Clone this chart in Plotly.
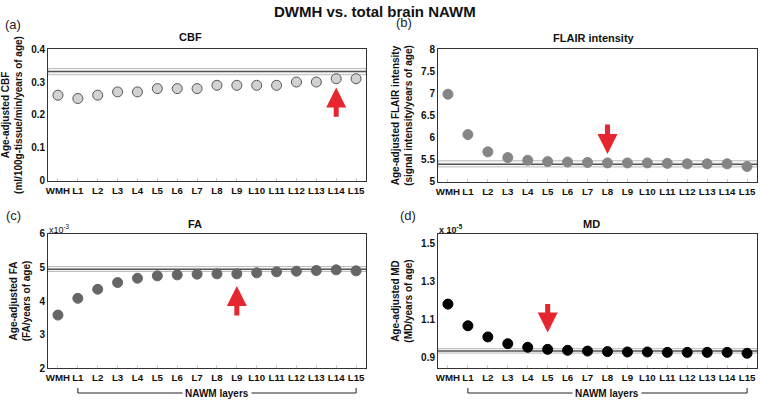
import plotly.graph_objects as go
from plotly.subplots import make_subplots

layers = ["WMH", "L1", "L2", "L3", "L4", "L5", "L6", "L7", "L8", "L9",
          "L10", "L11", "L12", "L13", "L14", "L15"]

cbf = [0.26, 0.25, 0.26, 0.27, 0.27, 0.28, 0.28, 0.28, 0.29, 0.29,
       0.29, 0.29, 0.30, 0.30, 0.31, 0.31]
flair = [6.98, 6.07, 5.68, 5.55, 5.49, 5.46, 5.45, 5.44, 5.43, 5.43,
         5.43, 5.42, 5.41, 5.41, 5.41, 5.35]
fa_e3 = [3.58, 4.08, 4.35, 4.55, 4.68, 4.75, 4.78, 4.80, 4.81, 4.81,
         4.84, 4.87, 4.89, 4.91, 4.93, 4.90]
md_e5 = [1.181, 1.066, 1.007, 0.971, 0.952, 0.941, 0.936, 0.932, 0.929, 0.927,
         0.927, 0.925, 0.925, 0.925, 0.925, 0.920]

# total brain NAWM reference: mean and band
ref_mean = [0.332, 5.40, 4.95, 0.932]
ref_lo = [0.322, 5.34, 4.88, 0.921]
ref_hi = [0.341, 5.48, 5.03, 0.945]

# red arrows: layer, tail value, head value
arrow_layer = ["L14", "L8", "L9", "L5"]
arrow_tail = [0.19, 6.33, 3.52, 1.19]
arrow_head = [0.283, 5.63, 4.45, 1.03]

panel_titles = ["CBF", "FLAIR intensity", "FA", "MD"]
panel_tags = ["(a)", "(b)", "(c)", "(d)"]
y_titles = ["Age-adjusted CBF<br>(ml/100g-tissue/min/years of age)",
            "Age-adjusted FLAIR intensity<br>(signal intensity/years of age)",
            "Age-adjusted FA<br>(FA/years of age)",
            "Age-adjusted MD<br>(MD/years of age)"]
y_ranges = [[0, 0.4], [5, 8], [2, 6], [0.842, 1.553]]
y_ticks = [[0, 0.1, 0.2, 0.3, 0.4], [5, 5.5, 6, 6.5, 7, 7.5, 8],
           [2, 3, 4, 5, 6], [0.9, 1.1, 1.3, 1.5]]
y_ticktext = [["0", "0.1", "0.2", "0.3", "0.4"],
              ["5", "5.5", "6", "6.5", "7", "7.5", "8"],
              ["2", "3", "4", "5", "6"],
              ["0.9", "1.1", "1.3", "1.5"]]

series = [cbf, flair, fa_e3, md_e5]
fills = ["#d2d2d2", "#858585", "#666666", "#000000"]
edges = ["#555555", "#858585", "#666666", "#000000"]

FONT = "Liberation Sans, Arial, sans-serif"

fig = make_subplots(rows=2, cols=2)

xi = list(range(len(layers)))
for k, vals in enumerate(series):
    r, c = k // 2 + 1, k % 2 + 1
    fig.add_trace(go.Scatter(
        x=xi, y=vals, mode="markers",
        marker=dict(size=10, color=fills[k], line=dict(color=edges[k], width=1)),
        showlegend=False), row=r, col=c)

# panel domains (paper)
xdom = [[0.0632, 0.4816], [0.5763, 0.9961], [0.0632, 0.4816], [0.5763, 0.9961]]
ydom = [[0.5509, 0.8784], [0.5484, 0.8784], [0.0868, 0.4194], [0.0868, 0.4194]]

for k in range(4):
    sx = "" if k == 0 else str(k + 1)
    fig.layout["xaxis" + sx].update(
        domain=xdom[k], range=[-0.5, len(layers) - 0.5], automargin=False,
        tickvals=xi, ticktext=layers, tickangle=0,
        tickfont=dict(family=FONT, size=9.7, color="#111", weight="bold"),
        showgrid=False, zeroline=False, showline=True, mirror=True,
        linecolor="#333", linewidth=1,
        ticks="inside", ticklen=3, tickcolor="#cccccc")
    fig.layout["yaxis" + sx].update(
        domain=ydom[k], range=y_ranges[k], automargin=False,
        tickvals=y_ticks[k], ticktext=y_ticktext[k],
        tickfont=dict(family=FONT, size=10, color="#111", weight="bold"),
        showgrid=False, zeroline=False, showline=True, mirror=True,
        linecolor="#333", linewidth=1, ticks="",
        title=dict(text=y_titles[k], standoff=6,
                   font=dict(family=FONT, size=10, color="#111", weight="bold")))

    xr = "x" + sx
    yr = "y" + sx
    # reference band + mean line
    fig.add_shape(type="rect", xref=xr + " domain", yref=yr,
                  x0=0, x1=1, y0=ref_lo[k], y1=ref_hi[k],
                  fillcolor="rgba(0,0,0,0.04)",
                  line=dict(color="#bdbdbd", width=1), layer="below")
    fig.add_shape(type="line", xref=xr + " domain", yref=yr,
                  x0=0, x1=1, y0=ref_mean[k], y1=ref_mean[k],
                  line=dict(color="#555555", width=1.5), layer="below")

    # red arrow
    ax_i = layers.index(arrow_layer[k])
    fig.add_annotation(x=ax_i, y=arrow_head[k], ax=ax_i, ay=arrow_tail[k],
                       xref=xr, yref=yr, axref=xr, ayref=yr, text="",
                       showarrow=True, arrowhead=2, arrowsize=0.8,
                       arrowwidth=5, arrowcolor="#e5262e")


def paper_text(px, py, text, size, bold=True, xanchor="center", color="#111"):
    fig.add_annotation(x=px / 760, y=1 - py / 403, xref="paper", yref="paper",
                       text=text, showarrow=False, xanchor=xanchor,
                       yanchor="middle",
                       font=dict(family=FONT, size=size, color=color,
                                 weight="bold" if bold else "normal"))


paper_text(375, 11, "DWMH vs. total brain NAWM", 15)

title_pos = [(190, 37), (594, 38), (195, 224), (591, 224)]
tag_pos = [(13, 24), (404, 23), (13, 215), (408, 216)]
for k in range(4):
    paper_text(title_pos[k][0], title_pos[k][1], panel_titles[k], 11)
    paper_text(tag_pos[k][0], tag_pos[k][1], panel_tags[k], 13, bold=False,
               color="#222")

paper_text(47, 229, "x10<sup>-3</sup>", 9, bold=False, xanchor="left")
paper_text(437, 229, "x 10<sup>-5</sup>", 9, xanchor="left")

# NAWM layers brackets under the bottom panels
yb, yt = 1 - 393 / 403, 1 - 388 / 403
for sx in ["3", "4"]:
    first, last = 1, len(layers) - 1
    fig.add_shape(type="line", xref="x" + sx, yref="paper",
                  x0=first, x1=last, y0=yb, y1=yb, line=dict(color="#222", width=1))
    fig.add_shape(type="line", xref="x" + sx, yref="paper",
                  x0=first, x1=first, y0=yb, y1=yt, line=dict(color="#222", width=1))
    fig.add_shape(type="line", xref="x" + sx, yref="paper",
                  x0=last, x1=last, y0=yb, y1=yt, line=dict(color="#222", width=1))
    fig.add_annotation(x=8, y=yb, xref="x" + sx, yref="paper", yanchor="middle",
                       text="NAWM layers", showarrow=False, bgcolor="white",
                       borderpad=2,
                       font=dict(family=FONT, size=10, color="#111", weight="bold"))

fig.update_layout(width=760, height=403, margin=dict(l=0, r=0, t=0, b=0),
                  paper_bgcolor="white", plot_bgcolor="white",
                  font=dict(family=FONT))

fig.write_html("out.html", config={"displayModeBar": False},
               post_script="document.body.style.margin='0';"
                           "document.body.style.overflow='hidden';")
